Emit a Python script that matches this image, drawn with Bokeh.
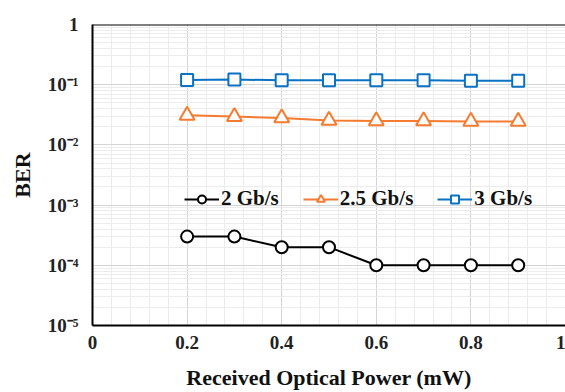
from bokeh.plotting import figure
from bokeh.models import (Range1d, LogTicker, FixedTicker, CustomJSTickFormatter,
                          Legend, LegendItem, Span)
from bokeh.embed import file_html
from bokeh.resources import INLINE

power = [0.2, 0.3, 0.4, 0.5, 0.6, 0.7, 0.8, 0.9]
ber_2g = [3e-4, 3e-4, 2e-4, 2e-4, 1e-4, 1e-4, 1e-4, 1e-4]
ber_25g = [0.031, 0.0295, 0.028, 0.0255, 0.025, 0.025, 0.0245, 0.0245]
ber_3g = [0.12, 0.122, 0.118, 0.118, 0.118, 0.118, 0.116, 0.116]
x_ticks = [0, 0.2, 0.4, 0.6, 0.8, 1.0]
labels = ["2 Gb/s", "2.5 Gb/s", "3 Gb/s"]

FONT = "Liberation Serif"

p = figure(width=565, height=392, y_axis_type="log",
           x_range=Range1d(0, 1), y_range=Range1d(1e-5, 1),
           output_backend="svg", toolbar_location=None,
           min_border_left=92, min_border_right=0, min_border_top=24,
           min_border_bottom=65)
p.outline_line_color = None
p.background_fill_color = "white"

# grids
p.xaxis.ticker = FixedTicker(ticks=x_ticks,
                             minor_ticks=[i * 0.04 for i in range(26)])
p.yaxis.ticker = LogTicker(num_minor_ticks=10)
p.xgrid.grid_line_color = "#d4d4d4"
p.xgrid.minor_grid_line_color = "#ececec"
p.ygrid.grid_line_color = "#d4d4d4"
p.ygrid.minor_grid_line_color = "#ececec"

p.yaxis.formatter = CustomJSTickFormatter(code="""
const e = Math.round(Math.log10(tick));
if (e === 0) return "1";
const sup = {"-":"\u207b","0":"\u2070","1":"\u00b9","2":"\u00b2","3":"\u00b3",
             "4":"\u2074","5":"\u2075","6":"\u2076","7":"\u2077","8":"\u2078","9":"\u2079"};
return "10" + String(e).split("").map(c => sup[c]).join("");
""")
p.xaxis.formatter = CustomJSTickFormatter(code="""
if (tick === 0) return "0";
if (Math.abs(tick - 1) < 1e-9) return "1";
return tick.toFixed(1);
""")

for ax in (p.xaxis, p.yaxis):
    ax.axis_line_color = "black"
    ax.axis_line_width = 2
    ax.major_tick_line_color = None
    ax.minor_tick_line_color = None
    ax.major_label_text_font = FONT
    ax.major_label_text_font_style = "bold"
    ax.major_label_text_font_size = "19px"
    ax.major_label_text_color = "#222222"
    ax.axis_label_text_font = FONT
    ax.axis_label_text_font_style = "bold"
    ax.axis_label_text_font_size = "22px"
    ax.axis_label_text_color = "#111111"

p.xaxis.axis_label = "Received Optical Power (mW)"
p.yaxis.axis_label = "BER"
p.xaxis.major_label_standoff = 4
p.xaxis.axis_label_standoff = 13
p.yaxis.major_label_standoff = 8
p.yaxis.axis_label_standoff = 10

p.add_layout(Span(location=1, dimension="width", line_color="black", line_width=2))

black, orange, blue = "#000000", "#F47B2F", "#0A72C2"

l1 = p.line(power, ber_2g, line_color=black, line_width=2)
m1 = p.scatter(power, ber_2g, marker="circle", size=12, line_color=black,
               line_width=2, fill_color="white")
l2 = p.line(power, ber_25g, line_color=orange, line_width=2)
m2 = p.scatter(power, ber_25g, marker="triangle", size=15, line_color=orange,
               line_width=2, fill_color="white")
l3 = p.line(power, ber_3g, line_color=blue, line_width=2)
m3 = p.scatter(power, ber_3g, marker="square", size=12, line_color=blue,
               line_width=2, fill_color="white")

legend = Legend(items=[LegendItem(label=labels[0], renderers=[l1, m1]),
                       LegendItem(label=labels[1], renderers=[l2, m2]),
                       LegendItem(label=labels[2], renderers=[l3, m3])],
                orientation="horizontal", location=(92, 114),
                background_fill_alpha=0, border_line_color=None,
                label_text_font=FONT, label_text_font_style="bold",
                label_text_font_size="21px", label_text_color="#111111",
                glyph_width=35, spacing=24, label_standoff=2, padding=4)
p.add_layout(legend, "center")

open("out.html", "w").write(file_html(p, INLINE))
